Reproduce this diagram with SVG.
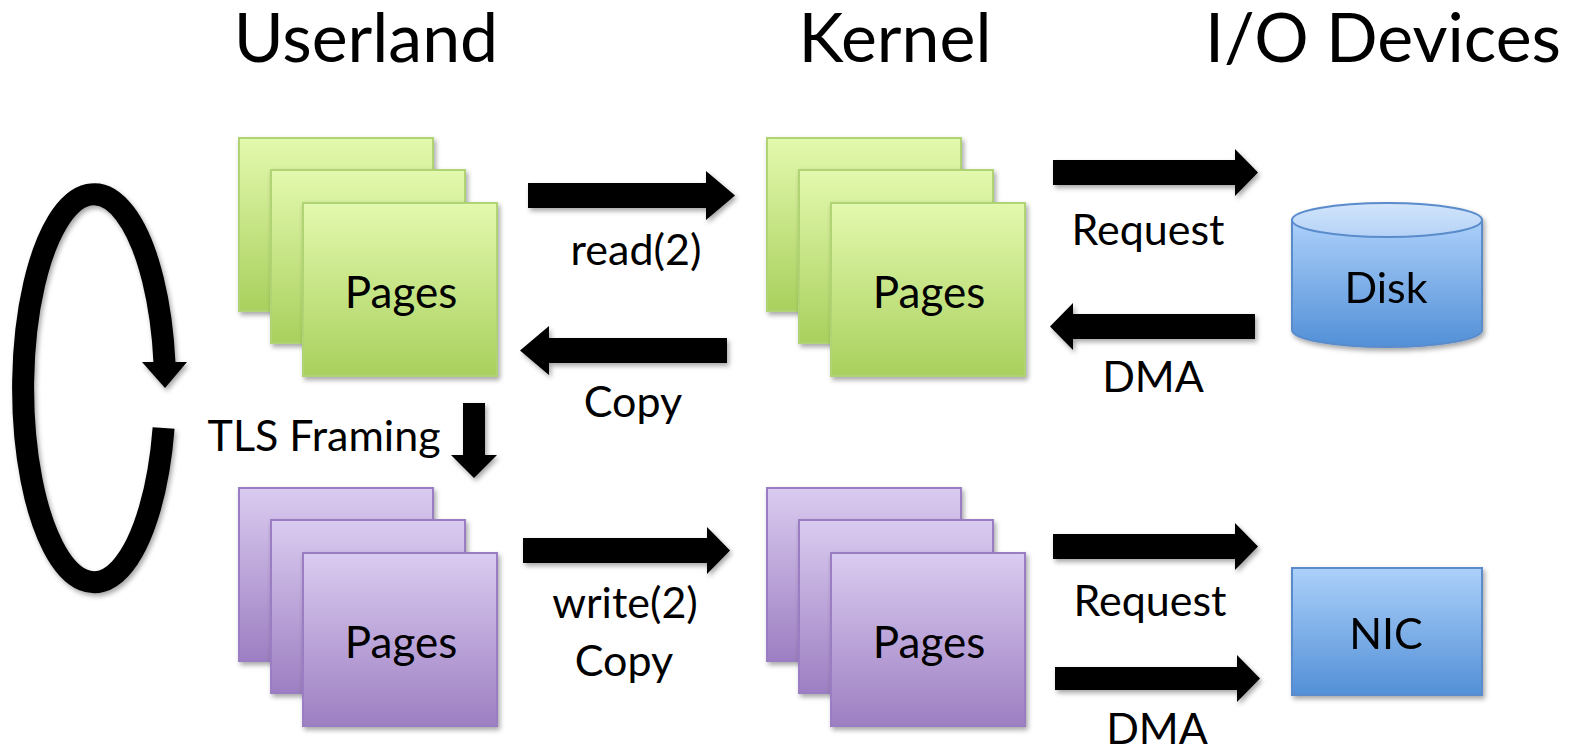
<svg xmlns="http://www.w3.org/2000/svg" width="1573" height="748" viewBox="0 0 1573 748">
<defs>
<linearGradient id="gGreen" x1="0" y1="0" x2="0" y2="1">
<stop offset="0" stop-color="#e3f9ae"/><stop offset="1" stop-color="#a9d05d"/>
</linearGradient>
<linearGradient id="gPurple" x1="0" y1="0" x2="0" y2="1">
<stop offset="0" stop-color="#dacbf0"/><stop offset="1" stop-color="#9d7fc2"/>
</linearGradient>
<linearGradient id="gBlue" x1="0" y1="0" x2="0" y2="1">
<stop offset="0" stop-color="#acd0fa"/><stop offset="1" stop-color="#5290d7"/>
</linearGradient>
<linearGradient id="gBlueTop" x1="0" y1="0" x2="0" y2="1">
<stop offset="0" stop-color="#d2e5fb"/><stop offset="1" stop-color="#b4d2f6"/>
</linearGradient>
<filter id="sh" x="-10%" y="-10%" width="130%" height="130%">
<feDropShadow dx="2" dy="3" stdDeviation="2.5" flood-color="#000" flood-opacity="0.35"/>
</filter>
</defs>
<style>
text{font-family:Lato,"Open Sans","Liberation Sans",sans-serif;fill:#000}
.title{font-size:68px;text-anchor:middle}
.lbl{font-size:43px;text-anchor:middle}
.pg{font-size:44px;text-anchor:middle}
.gr{fill:url(#gGreen);stroke:#b0d373;stroke-width:2;filter:url(#sh)}
.pu{fill:url(#gPurple);stroke:#9a7dc3;stroke-width:2;filter:url(#sh)}
.bl{fill:url(#gBlue);stroke:#5a8ccc;stroke-width:2}
.arr{fill:#000;filter:url(#sh)}
</style>
<rect width="1573" height="748" fill="#fff"/>

<text class="title" x="366" y="62">Userland</text>
<text class="title" x="895" y="62">Kernel</text>
<text class="title" x="1383" y="62" font-size="67">I/O Devices</text>

<g id="user-read-pages">
<rect class="gr" x="239" y="138" width="194" height="173"/>
<rect class="gr" x="271" y="170" width="194" height="173"/>
<rect class="gr" x="303" y="203" width="194" height="173"/>
<text class="pg" x="401" y="308">Pages</text>
</g>
<g id="kernel-read-pages">
<rect class="gr" x="767" y="138" width="194" height="173"/>
<rect class="gr" x="799" y="170" width="194" height="173"/>
<rect class="gr" x="831" y="203" width="194" height="173"/>
<text class="pg" x="929" y="308">Pages</text>
</g>
<g id="user-write-pages">
<rect class="pu" x="239" y="488" width="194" height="173"/>
<rect class="pu" x="271" y="520" width="194" height="173"/>
<rect class="pu" x="303" y="553" width="194" height="173"/>
<text class="pg" x="401" y="658">Pages</text>
</g>
<g id="kernel-write-pages">
<rect class="pu" x="767" y="488" width="194" height="173"/>
<rect class="pu" x="799" y="520" width="194" height="173"/>
<rect class="pu" x="831" y="553" width="194" height="173"/>
<text class="pg" x="929" y="658">Pages</text>
</g>
<g id="disk" filter="url(#sh)">
<path class="bl" d="M1292 220 L1292 330 A95 17 0 0 0 1482 330 L1482 220 Z"/>
<ellipse cx="1387" cy="220" rx="95" ry="17" fill="url(#gBlueTop)" stroke="#5a8ccc" stroke-width="2"/>
<text class="lbl" x="1386" y="303">Disk</text>
</g>
<g id="nic" filter="url(#sh)">
<rect class="bl" x="1292" y="568" width="190" height="127"/>
<text class="lbl" x="1386" y="649">NIC</text>
</g>

<g id="connectors">
<path class="arr" d="M528 183 H706 V171 L735 195.5 L706 220 V208 H528 Z"/>
<path class="arr" d="M727 338 H549 V326 L520 350.5 L549 375 V363 H727 Z"/>
<path class="arr" d="M1053 160 H1235 V149 L1258 172.5 L1235 196 V185 H1053 Z"/>
<path class="arr" d="M1255 314 H1073 V303 L1050 326.5 L1073 350 V339 H1255 Z"/>
<path class="arr" d="M523 538 H707 V527 L730 550.5 L707 574 V563 H523 Z"/>
<path class="arr" d="M1053 534 H1235 V523 L1258 546.5 L1235 570 V559 H1053 Z"/>
<path class="arr" d="M1055 667 H1237 V655 L1260 678.5 L1237 702 V690 H1055 Z"/>
<path class="arr" d="M463 403 H485 V455 H497 L474 478 L451 455 H463 Z"/>
<g class="arr">
<path d="M163.6 428 A71 194 0 1 1 164.5 363" fill="none" stroke="#000" stroke-width="22"/>
<path d="M142 362 L187 362 L165 388 Z"/>
</g>
</g>

<text class="lbl" x="636" y="265">read(2)</text>
<text class="lbl" x="633" y="417">Copy</text>
<text class="lbl" x="1148" y="245">Request</text>
<text class="lbl" x="1153" y="392">DMA</text>
<text class="lbl" x="324" y="451">TLS Framing</text>
<text class="lbl" x="625" y="618">write(2)</text>
<text class="lbl" x="624" y="676">Copy</text>
<text class="lbl" x="1150" y="616">Request</text>
<text class="lbl" x="1157" y="744">DMA</text>
</svg>
